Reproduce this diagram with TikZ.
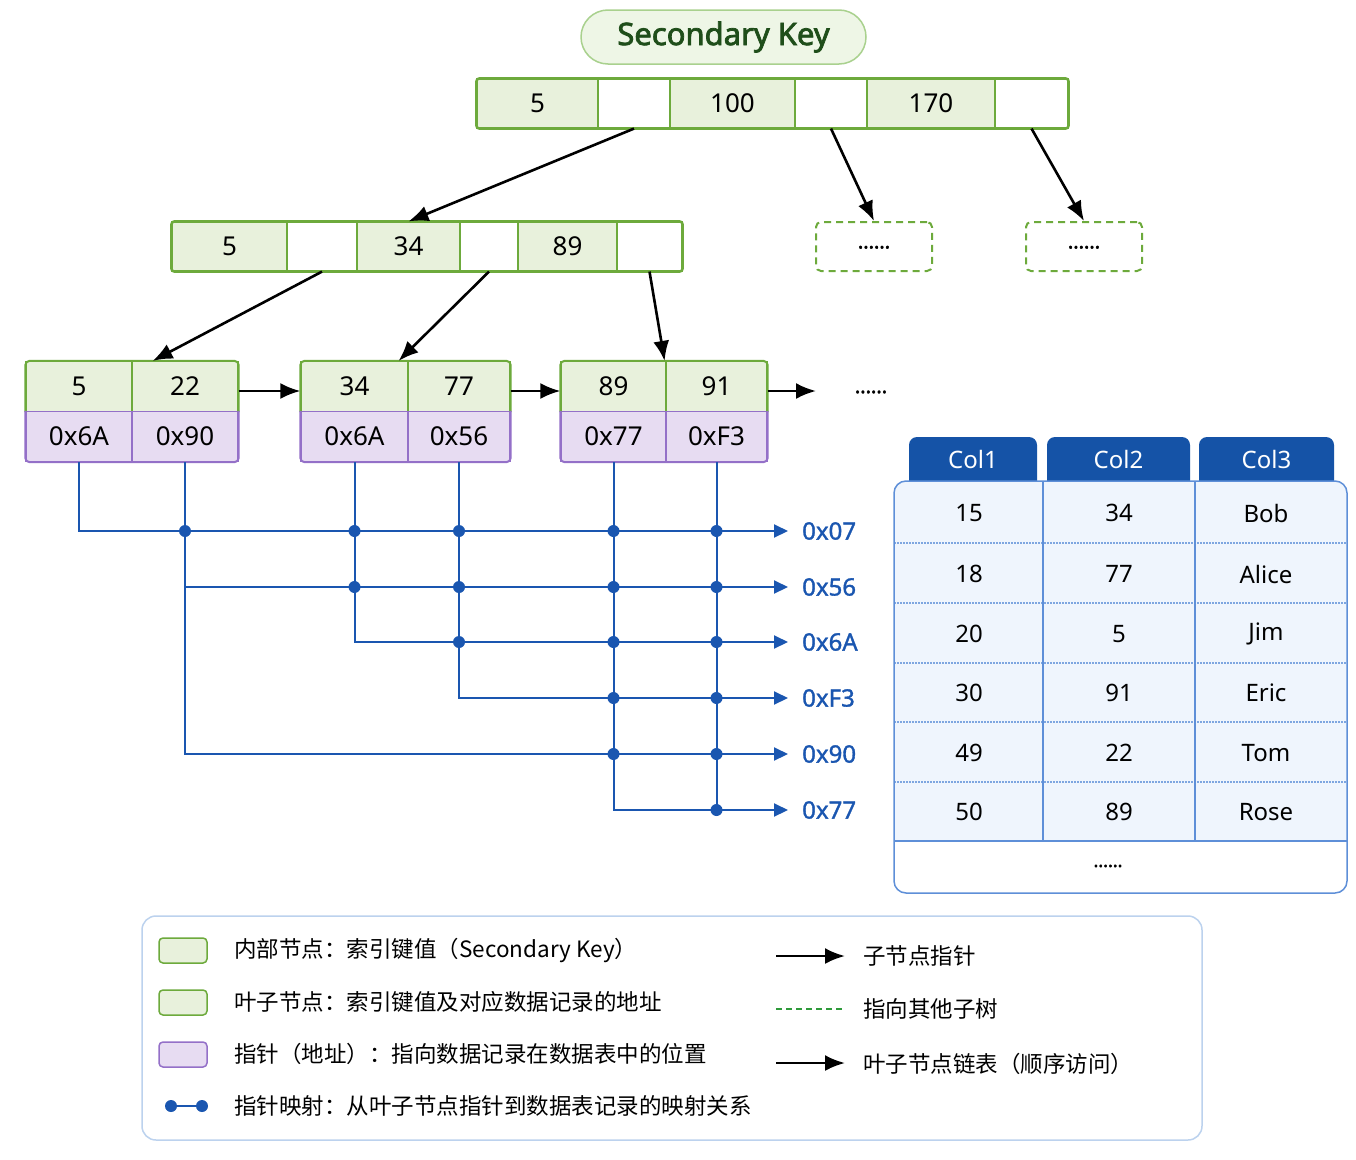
\documentclass[tikz,border=0pt]{standalone}
\usepackage{fontspec}
\setmainfont{Noto Sans}
\newfontfamily\boldf{Noto Sans}[FakeBold=2.4]
\newfontfamily\semif{Noto Sans}[FakeBold=1.4]
\newfontfamily\cjk{Noto Sans CJK SC}
\usetikzlibrary{arrows.meta}
\definecolor{gfill}{HTML}{E8F1DC}
\definecolor{gborder}{HTML}{6DAA3C}
\definecolor{tfill}{HTML}{EEF6E6}
\definecolor{tborder}{HTML}{A9D18E}
\definecolor{tgreen}{HTML}{1F4E1A}
\definecolor{pfill}{HTML}{E7DCF2}
\definecolor{pborder}{HTML}{9470C8}
\definecolor{bblue}{HTML}{1A56B0}
\definecolor{hblue}{HTML}{1553A7}
\definecolor{tbord}{HTML}{5E8FD8}
\definecolor{tbody}{HTML}{EFF5FD}
\definecolor{tdot}{HTML}{7EA6E0}
\definecolor{lborder}{HTML}{BCD2EE}
\definecolor{ldgreen}{HTML}{2E9A3A}
\begin{document}
\begin{tikzpicture}[x=1pt,y=-1pt,
  kc/.style={draw=gborder, line width=1.2pt, fill=gfill, inner sep=0pt, minimum height=49, font=\fontsize{26}{30}\selectfont, text=black},
  pc/.style={kc, fill=white},
  lk/.style={kc, minimum height=50},
  lp/.style={draw=pborder, line width=1.2pt, fill=pfill, inner sep=0pt, minimum height=50, font=\fontsize{26}{30}\selectfont, text=black},
  dbox/.style={draw=gborder, dashed, dash pattern=on 7pt off 5pt, line width=2pt, rounded corners=5, minimum width=116, minimum height=49, font=\boldf\fontsize{20}{24}\selectfont},
  arr/.style={-{Latex[length=20pt,width=16pt]}, line width=2.6pt, black},
  bl/.style={line width=2pt, draw=bblue},
  blarr/.style={bl, -{Triangle[length=14pt,width=13pt]}, shorten >=14pt},
  blab/.style={anchor=west, inner sep=0pt, text=bblue, font=\semif\fontsize{24}{28}\selectfont},
  htext/.style={text=white, font=\fontsize{24}{28}\selectfont},
  ttext/.style={text=black, font=\fontsize{24}{28}\selectfont},
  ltext/.style={anchor=west, inner sep=0pt, text=black, font=\cjk\fontsize{22.5}{26}\selectfont},
  dotn/.style={circle, fill=bblue, inner sep=0pt, minimum size=12}
]
\fill[white] (0,0) rectangle (1356,1159);
\useasboundingbox (0,0) rectangle (1356,1159);

% title
\node[draw=tborder, fill=tfill, line width=1.5pt, rounded corners=27, minimum width=285, minimum height=54,
      font=\boldf\fontsize{31}{36}\selectfont, text=tgreen] (title) at (723.5,37) {Secondary Key};

% root node
\node[kc, minimum width=121] (r1) at (537.5,103.5) {5};
\node[pc, minimum width=72]  (r2) at (634,103.5) {};
\node[kc, minimum width=125] (r3) at (732.5,103.5) {100};
\node[pc, minimum width=72]  (r4) at (831,103.5) {};
\node[kc, minimum width=128] (r5) at (931,103.5) {170};
\node[pc, minimum width=73]  (r6) at (1031.5,103.5) {};
\draw[gborder, line width=2.5pt, rounded corners=3] (r1.north west) rectangle (r6.south east);

% level 2
\node[kc, minimum width=115] (m1) at (229.5,246.5) {5};
\node[pc, minimum width=70]  (m2) at (322,246.5) {};
\node[kc, minimum width=103] (m3) at (408.5,246.5) {34};
\node[pc, minimum width=58]  (m4) at (489,246.5) {};
\node[kc, minimum width=99]  (m5) at (567.5,246.5) {89};
\node[pc, minimum width=65]  (m6) at (649.5,246.5) {};
\draw[gborder, line width=2.5pt, rounded corners=3] (m1.north west) rectangle (m6.south east);

% dashed subtrees
\node[dbox] (d1) at (874,246.5) {\raisebox{-4pt}{......}};
\node[dbox] (d2) at (1084,246.5) {\raisebox{-4pt}{......}};

% leaves
\node[lk, minimum width=106] (l1a) at (79,386.5) {5};
\node[lk, minimum width=106] (l1b) at (185,386.5) {22};
\node[lp, minimum width=106] (l1c) at (79,436.5) {0x6A};
\node[lp, minimum width=106] (l1d) at (185,436.5) {0x90};
\node[lk, minimum width=107] (l2a) at (354.5,386.5) {34};
\node[lk, minimum width=102] (l2b) at (459,386.5) {77};
\node[lp, minimum width=107] (l2c) at (354.5,436.5) {0x6A};
\node[lp, minimum width=102] (l2d) at (459,436.5) {0x56};
\node[lk, minimum width=105] (l3a) at (613.5,386.5) {89};
\node[lk, minimum width=101] (l3b) at (716.5,386.5) {91};
\node[lp, minimum width=105] (l3c) at (613.5,436.5) {0x77};
\node[lp, minimum width=101] (l3d) at (716.5,436.5) {0xF3};
\foreach \a/\b/\c/\d in {l1a/l1b/l1c/l1d, l2a/l2b/l2c/l2d, l3a/l3b/l3c/l3d}{
  \draw[gborder, line width=2pt, rounded corners=4] (\a.south west) -- (\a.north west) -- (\b.north east) -- (\b.south east);
  \draw[pborder, line width=2pt, rounded corners=4] (\c.north west) -- (\c.south west) -- (\d.south east) -- (\d.north east);
}
\node[font=\boldf\fontsize{20}{24}\selectfont] (more) at (871,392) {......};
\coordinate (lend) at (816,391);

% tree arrows
\draw[arr] (r2.south) -- (m3.north);
\draw[arr] (r4.south) -- (d1.north);
\draw[arr] (r6.south) -- (d2.north);
\draw[arr] (m2.south) -- ([xshift=20pt]l1a.north east);
\draw[arr] (m4.south) -- ([xshift=-10pt]l2a.north east);
\draw[arr] (m6.south) -- ([xshift=-2pt]l3a.north east);
\draw[arr] ([yshift=-4.5pt]l1b.east) -- ([yshift=-4.5pt]l2a.west);
\draw[arr] ([yshift=-4.5pt]l2b.east) -- ([yshift=-4.5pt]l3a.west);
\draw[arr] ([yshift=-4.5pt]l3b.east) -- (lend);

% address labels
\node[blab] (a07) at (802,531) {0x07};
\node[blab] (a56) at (802,587) {0x56};
\node[blab] (a6A) at (802,642) {0x6A};
\node[blab] (aF3) at (802,698) {0xF3};
\node[blab] (a90) at (802,754) {0x90};
\node[blab] (a77) at (802,810) {0x77};

% mapping lines
\draw[blarr] (l1c.south) |- (a07.west);
\draw[blarr] (l1d.south) |- (a90.west);
\draw[blarr] (l1d.south |- a56.west) -- (a56.west);
\draw[blarr] (l2c.south) |- (a6A.west);
\draw[blarr] (l2d.south) |- (aF3.west);
\draw[blarr] (l3c.south) |- (a77.west);
\draw[bl] (l3d.south) -- (l3d.south |- a77.west);
\foreach \v/\hs in {l1d/a07, l2c/a07, l2c/a56, l2d/a07, l2d/a56, l2d/a6A,
  l3c/a07, l3c/a56, l3c/a6A, l3c/aF3, l3c/a90,
  l3d/a07, l3d/a56, l3d/a6A, l3d/aF3, l3d/a90, l3d/a77}{
  \fill[bblue] (\v.south |- \hs.west) circle (6pt);
}

% table
\fill[hblue, rounded corners=8] (909,437) rectangle (1037,492);
\fill[hblue, rounded corners=8] (1047,437) rectangle (1190,492);
\fill[hblue, rounded corners=8] (1199,437) rectangle (1334,492);
\fill[tbody, rounded corners=12] (894,481) rectangle (1347,893);
\begin{scope}
  \clip (890,841) rectangle (1350,897);
  \fill[white, rounded corners=12] (894,481) rectangle (1347,893);
\end{scope}
\foreach \y in {543,603,663,722,782}{
  \draw[tdot, line width=1.2pt, dash pattern=on 1.5pt off 1.5pt] (894,\y) -- (1347,\y);
}
\draw[tbord, line width=1.5pt] (894,841) -- (1347,841);
\draw[tbord, line width=1.5pt] (1043,481) -- (1043,841);
\draw[tbord, line width=1.5pt] (1195,481) -- (1195,841);
\draw[tbord, line width=1.5pt, rounded corners=12] (894,481) rectangle (1347,893);
\node[htext] (h1) at (973,459) {Col1};
\node[htext] (h2) at (1118.5,459) {Col2};
\node[htext] (h3) at (1266.5,459) {Col3};
\foreach \r/\y/\a/\b/\c in {1/513/15/34/Bob, 2/574/18/77/Alice, 3/634/20/5/Jim, 4/693/30/91/Eric, 5/753/49/22/Tom, 6/812/50/89/Rose}{
  \node[ttext] (c\r a) at (969,\y) {\a};
  \node[ttext] (c\r b) at (1119,\y) {\b};
  \node[ttext] (c\r c) at (1266,\y) {\c};
}
\node[font=\boldf\fontsize{18}{22}\selectfont] (tmore) at (1108,866) {......};

% legend
\draw[lborder, fill=white, line width=1.5pt, rounded corners=14] (142,916) rectangle (1202,1140);
\node[draw=gborder, fill=gfill, line width=1.5pt, rounded corners=4, minimum width=48, minimum height=25] (s1) at (183,950.5) {};
\node[draw=gborder, fill=gfill, line width=1.5pt, rounded corners=4, minimum width=48, minimum height=25] (s2) at (183,1002.5) {};
\node[draw=pborder, fill=pfill, line width=1.5pt, rounded corners=4, minimum width=48, minimum height=25] (s3) at (183,1054.5) {};
\node[dotn] (b1) at (171,1106) {};
\node[dotn] (b2) at (202,1106) {};
\draw[bl] (b1) -- (b2);
\node[ltext] (t1) at (234,950) {内部节点：索引键值（Secondary Key）};
\node[ltext] (t2) at (234,1002) {叶子节点：索引键值及对应数据记录的地址};
\node[ltext] (t3) at (234,1054) {指针（地址）：指向数据记录在数据表中的位置};
\node[ltext] (t4) at (234,1106) {指针映射：从叶子节点指针到数据表记录的映射关系};
\coordinate (la1) at (776,956);
\coordinate (la2) at (845,956);
\coordinate (lb1) at (776,1009);
\coordinate (lb2) at (845,1009);
\coordinate (lc1) at (776,1063);
\coordinate (lc2) at (845,1063);
\draw[arr] (la1) -- (la2);
\draw[ldgreen, line width=2pt, dash pattern=on 6pt off 4pt] (lb1) -- (lb2);
\draw[arr] (lc1) -- (lc2);
\node[ltext] (u1) at (863,956) {子节点指针};
\node[ltext] (u2) at (863,1009) {指向其他子树};
\node[ltext] (u3) at (863,1064) {叶子节点链表（顺序访问）};
\end{tikzpicture}
\end{document}
